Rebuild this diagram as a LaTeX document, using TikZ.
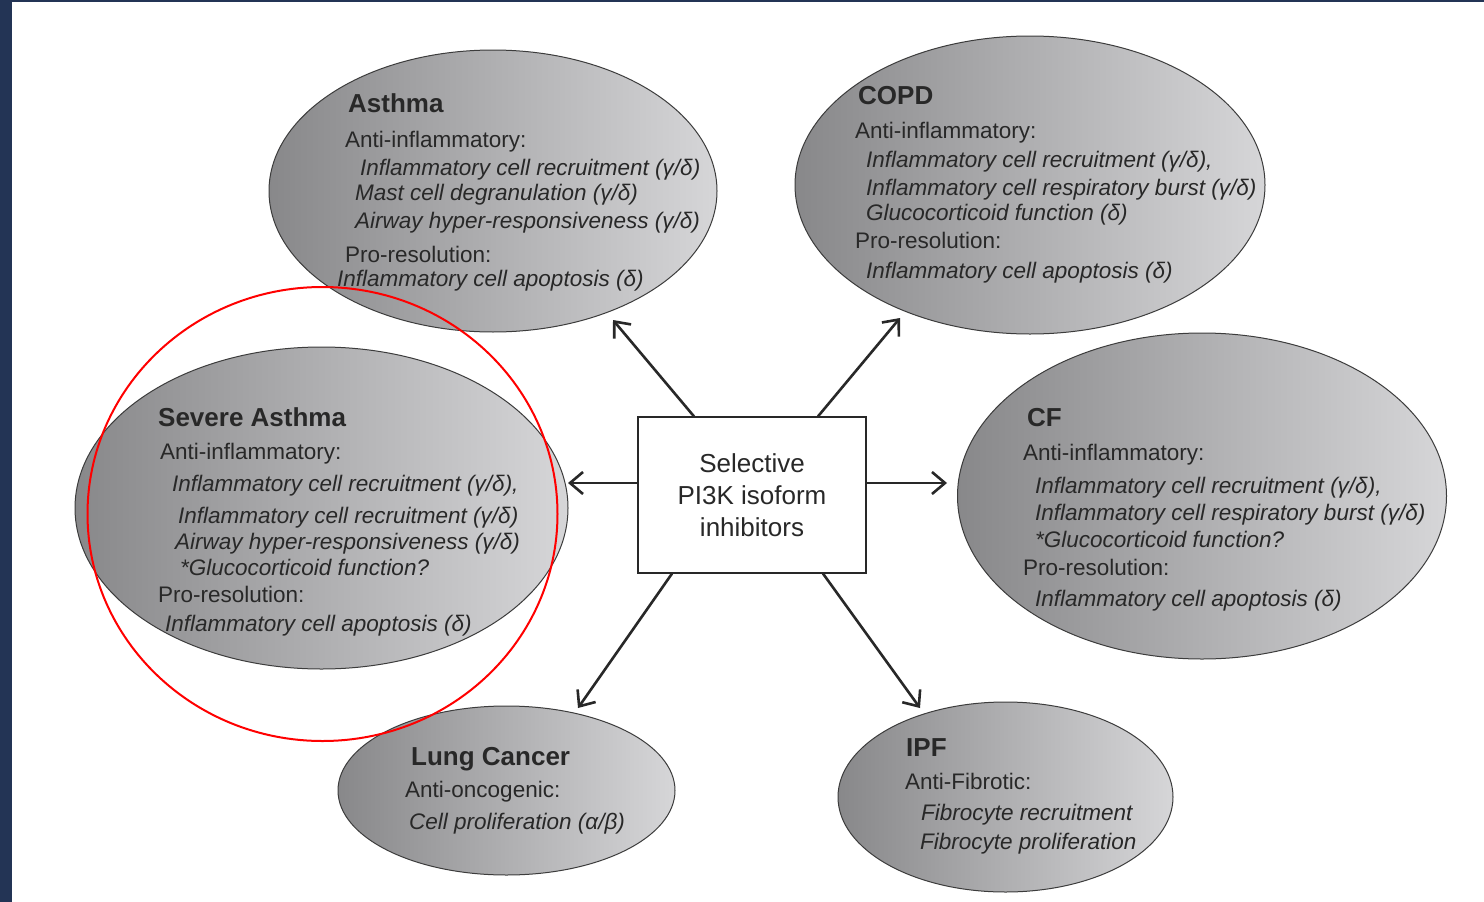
\documentclass[tikz,border=0pt]{standalone}
\usepackage{fontspec}
\setmainfont{Liberation Sans}
\usetikzlibrary{shapes.geometric,arrows.meta}
\definecolor{navy}{RGB}{35,52,85}
\definecolor{txtc}{RGB}{40,40,40}
\definecolor{ellL}{RGB}{136,136,138}
\definecolor{ellR}{RGB}{214,214,216}
\definecolor{edgec}{RGB}{60,60,60}
\begin{document}
\begin{tikzpicture}[x=1pt,y=-1pt,
 ell/.style={ellipse, draw=edgec, line width=1pt, left color=ellL, right color=ellR, inner sep=0pt},
 ttl/.style={anchor=base west, inner sep=0pt, text=txtc, font=\fontsize{26}{30}\selectfont\bfseries},
 hd/.style={anchor=base west, inner sep=0pt, text=txtc, font=\fontsize{22.5}{27}\selectfont},
 it/.style={anchor=base west, inner sep=0pt, text=txtc, font=\fontsize{22.5}{27}\selectfont\itshape},
 arr/.style={line width=2.6pt, draw=txtc, -{Straight Barb[length=13pt,width=22pt]}},
 hl/.style={ellipse, draw=red, line width=2pt, inner sep=0pt},
]
\useasboundingbox (0,0) rectangle (1484,902);
\fill[white] (0,0) rectangle (1484,902);
\fill[navy] (0,0) rectangle (12,902);
\fill[navy] (0,0) rectangle (1484,1.5);

% ellipses
\node[ell, minimum width=448pt, minimum height=282pt] (asthma) at (493,191) {};
\node[ell, minimum width=470pt, minimum height=298pt] (copd) at (1030,185) {};
\node[ell, minimum width=493pt, minimum height=322pt] (severe) at (321.5,508) {};
\node[ell, minimum width=489pt, minimum height=326pt] (cf) at (1202,496) {};
\node[ell, minimum width=337pt, minimum height=169pt] (lung) at (506.5,790.5) {};
\node[ell, minimum width=335pt, minimum height=190pt] (ipf) at (1005.5,797) {};

% Asthma
\node[ttl] (a0) at (348,112) {Asthma};
\node[hd] (a1) at (345,147) {Anti-inflammatory:};
\node[it] (a2) at (360,175) {Inflammatory cell recruitment (γ/δ)};
\node[it] (a3) at (355,200) {Mast cell degranulation (γ/δ)};
\node[it] (a4) at (355,228) {Airway hyper-responsiveness (γ/δ)};
\node[hd] (a5) at (345,262) {Pro-resolution:};
\node[it] (a6) at (337,286) {Inflammatory cell apoptosis (δ)};

% COPD
\node[ttl] (c0) at (858,104) {COPD};
\node[hd] (c1) at (855,138) {Anti-inflammatory:};
\node[it] (c2) at (866,167) {Inflammatory cell recruitment (γ/δ),};
\node[it] (c3) at (866,195) {Inflammatory cell respiratory burst (γ/δ)};
\node[it] (c4) at (866,220) {Glucocorticoid function (δ)};
\node[hd] (c5) at (855,248) {Pro-resolution:};
\node[it] (c6) at (866,278) {Inflammatory cell apoptosis (δ)};

% Severe Asthma
\node[ttl] (s0) at (158,426) {Severe Asthma};
\node[hd] (s1) at (160,459) {Anti-inflammatory:};
\node[it] (s2) at (172,491) {Inflammatory cell recruitment (γ/δ),};
\node[it] (s3) at (178,523) {Inflammatory cell recruitment (γ/δ)};
\node[it] (s4) at (175,549) {Airway hyper-responsiveness (γ/δ)};
\node[it] (s5) at (180,575) {*Glucocorticoid function?};
\node[hd] (s6) at (158,602) {Pro-resolution:};
\node[it] (s7) at (165,631) {Inflammatory cell apoptosis (δ)};

% CF
\node[ttl] (f0) at (1027,426) {CF};
\node[hd] (f1) at (1023,460) {Anti-inflammatory:};
\node[it] (f2) at (1035,493) {Inflammatory cell recruitment (γ/δ),};
\node[it] (f3) at (1035,520) {Inflammatory cell respiratory burst (γ/δ)};
\node[it] (f4) at (1035,547) {*Glucocorticoid function?};
\node[hd] (f5) at (1023,575) {Pro-resolution:};
\node[it] (f6) at (1035,606) {Inflammatory cell apoptosis (δ)};

% Lung Cancer
\node[ttl] (l0) at (411,765) {Lung Cancer};
\node[hd] (l1) at (405,797) {Anti-oncogenic:};
\node[it] (l2) at (409,829) {Cell proliferation (α/β)};

% IPF
\node[ttl] (i0) at (906,756) {IPF};
\node[hd] (i1) at (905,789) {Anti-Fibrotic:};
\node[it] (i2) at (921,820) {Fibrocyte recruitment};
\node[it] (i3) at (920,849) {Fibrocyte proliferation};

% centre box
\node[draw=txtc, line width=1.2pt, fill=white, minimum width=228pt, minimum height=156pt,
      align=center, text=txtc, font=\fontsize{26}{32}\selectfont] (box) at (752,495)
      {Selective\\PI3K isoform\\inhibitors};

% arrow tips
\coordinate (tA) at (613,320);
\coordinate (tC) at (900,318);
\coordinate (tS) at (568,483);
\coordinate (tF) at (947,483);
\coordinate (tL) at (578,708);
\coordinate (tI) at (920,708);

\draw[arr] ([xshift=-58pt]box.north) -- (tA);
\draw[arr] ([xshift=66pt]box.north) -- (tC);
\draw[arr] ([yshift=12pt]box.west) -- (tS);
\draw[arr] ([yshift=12pt]box.east) -- (tF);
\draw[arr] ([xshift=-80pt]box.south) -- (tL);
\draw[arr] ([xshift=71pt]box.south) -- (tI);

% red highlight
\node[hl, minimum width=470pt, minimum height=454pt] (mark) at (322.5,514) {};
\end{tikzpicture}
\end{document}
